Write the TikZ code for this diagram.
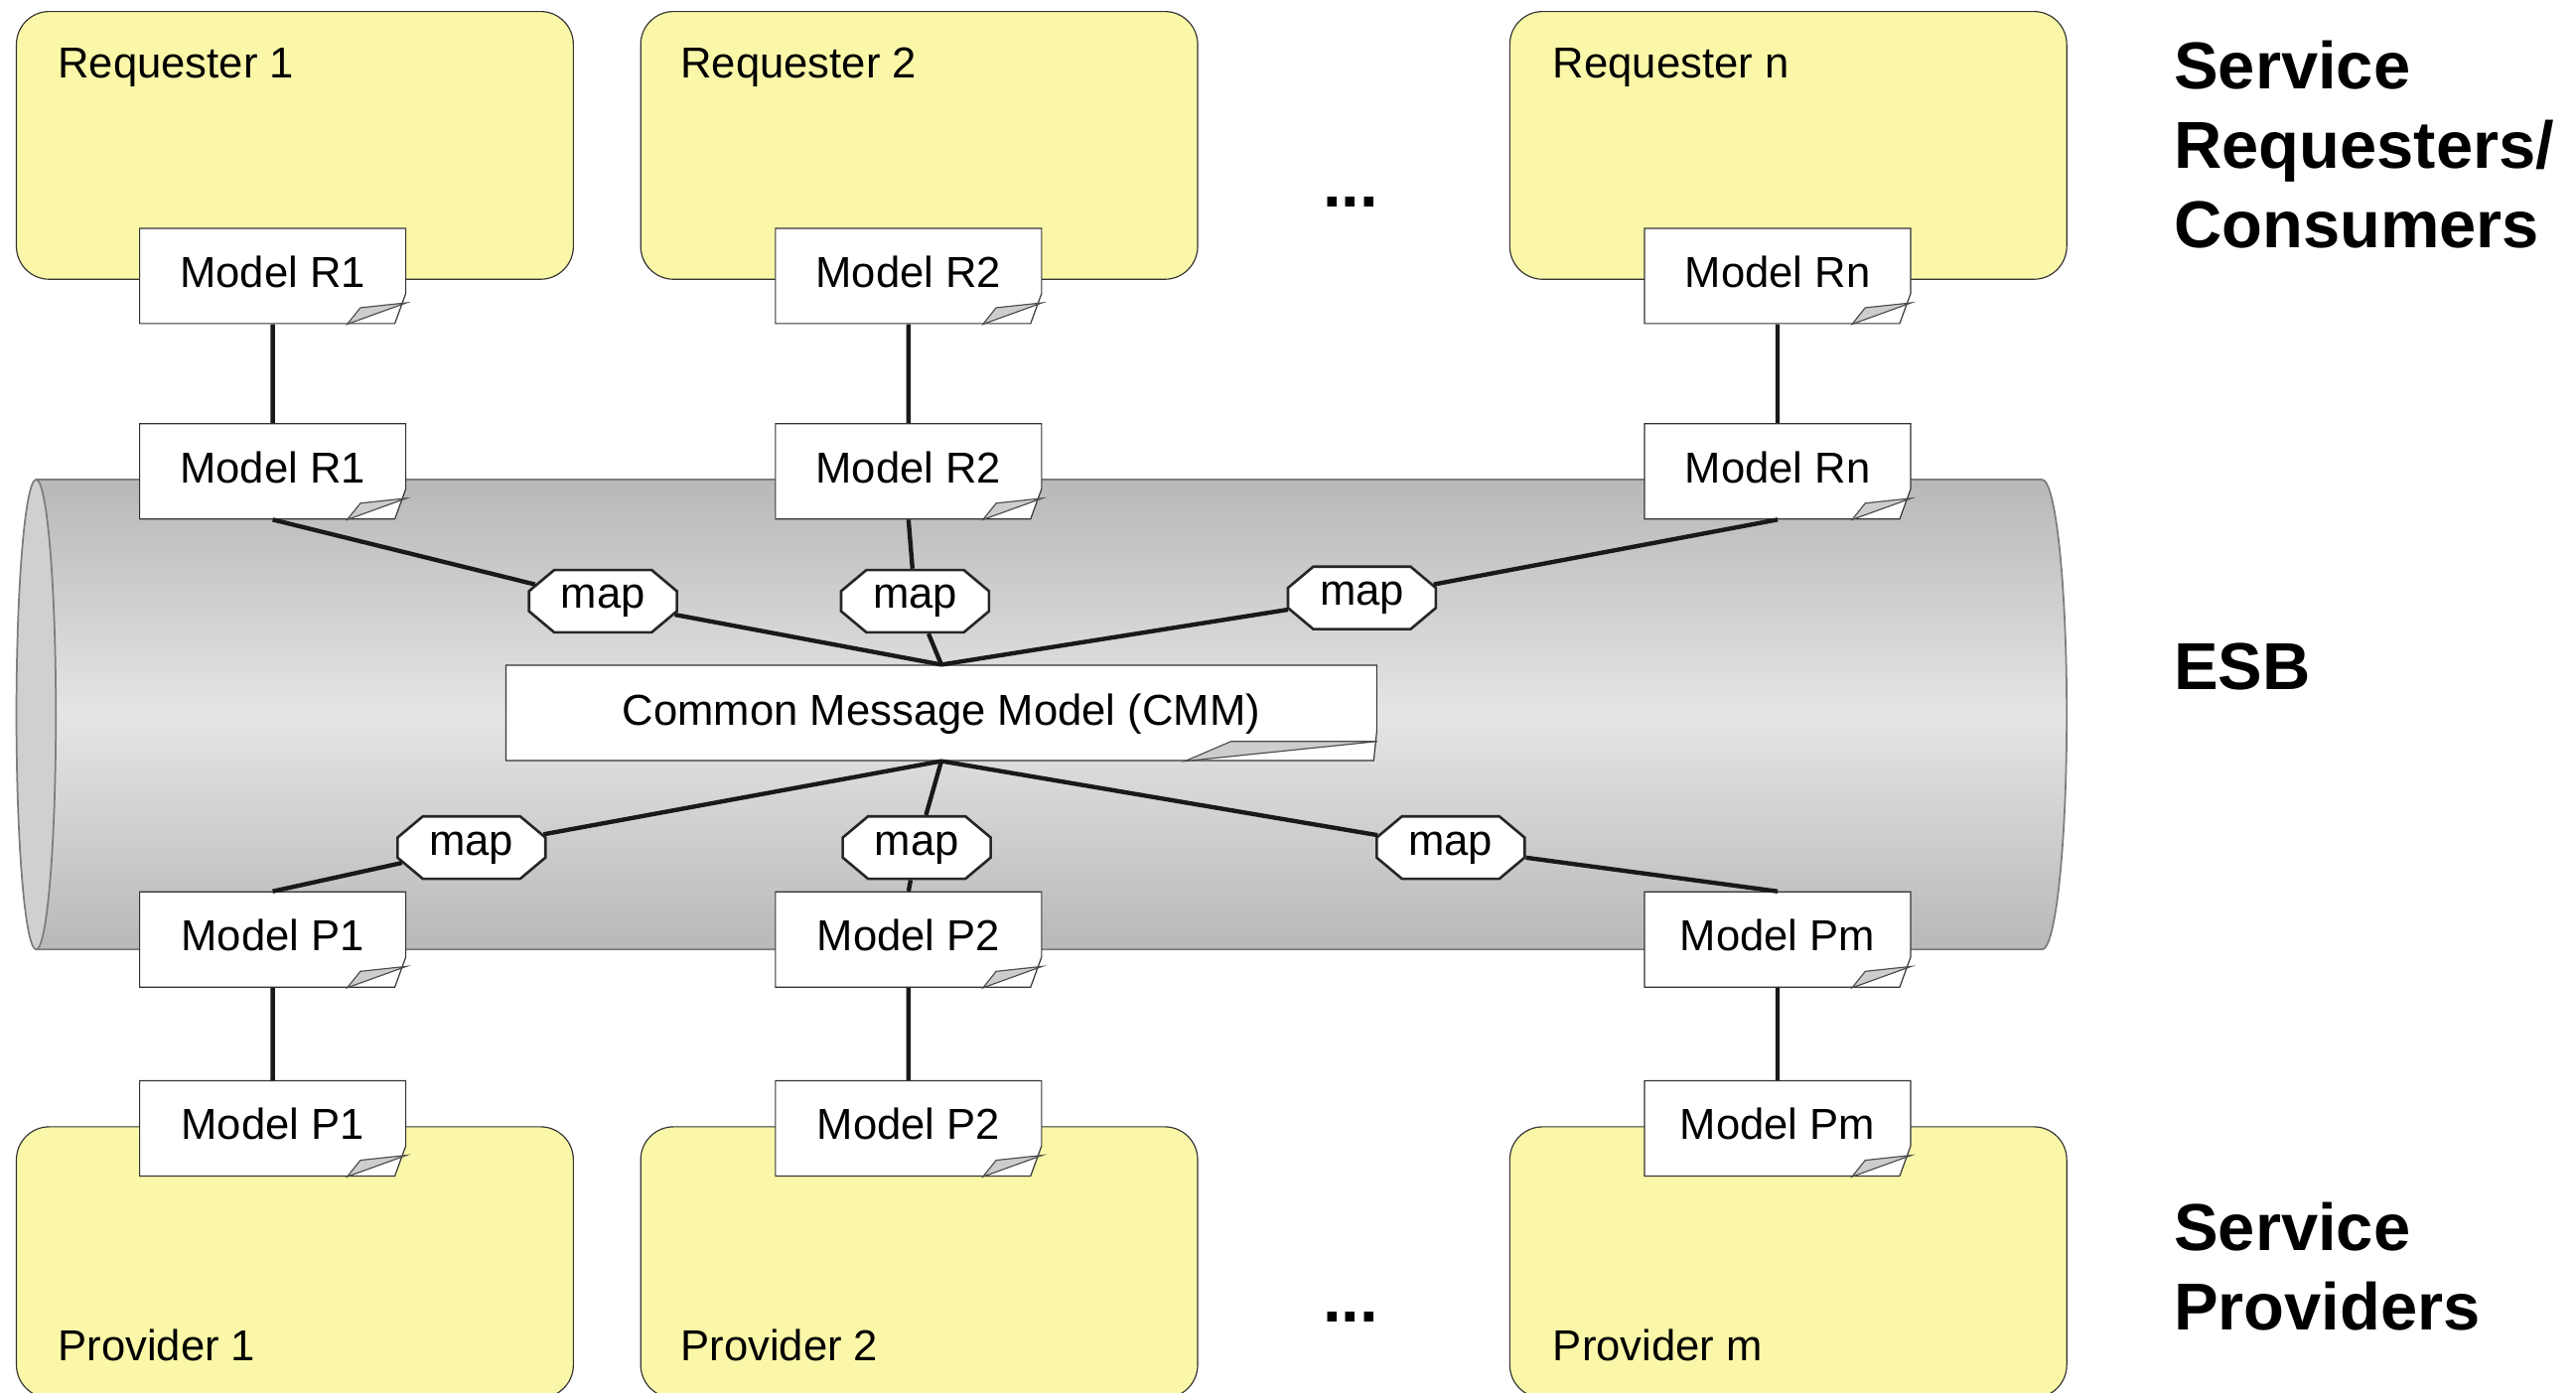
\documentclass[tikz,border=0pt]{standalone}
\usepackage{fontspec}
\setmainfont{Liberation Sans}
\usetikzlibrary{calc,shapes.misc}

\definecolor{partyyellow}{RGB}{250,248,168}
\definecolor{busdark}{RGB}{184,184,184}
\definecolor{buslight}{RGB}{229,229,229}
\definecolor{busend}{RGB}{208,208,208}
\definecolor{busline}{RGB}{125,125,125}
\definecolor{curlgrey}{RGB}{205,205,205}

\begin{document}
\begin{tikzpicture}[
    x=0.2mm,y=-0.2mm,
    every node/.style={font=\fontsize{15}{18}\selectfont},
    party/.style={draw=black!80,fill=partyyellow,rounded corners=4mm,
                  minimum width=67.8mm,minimum height=32.6mm,inner sep=0pt},
    plabel/.style={anchor=west,inner sep=0pt},
    model/.style={chamfered rectangle,chamfered rectangle corners=south east,
                  chamfered rectangle angle=20,chamfered rectangle xsep=7.2mm,
                  draw=black!80,fill=white,inner sep=0pt,text depth=0.3em,
                  minimum width=32.4mm,minimum height=11.6mm},
    mapbox/.style={chamfered rectangle,chamfered rectangle angle=50,
                   chamfered rectangle xsep=1.6mm,draw=black!85,fill=white,
                   line width=0.9pt,inner sep=0pt,text height=0.72em,text depth=0.21em,
                   minimum width=18mm,minimum height=7.6mm},
    cmmbox/.style={model,chamfered rectangle angle=6,
                   chamfered rectangle xsep=23.4mm,text depth=0.2em,
                   minimum width=106mm},
    curl/.style={fill=curlgrey,draw=black!70,line width=0.4pt},
    link/.style={line width=1.5pt,black!90},
    head/.style={anchor=west,align=left,inner sep=0pt,
                 font=\fontsize{23}{27.6}\selectfont\bfseries},
  ]
  \path[use as bounding box] (0,0) rectangle (1568,848);
  \clip (0,0) rectangle (1568,848);

  % the bus
  \shade[top color=busdark,bottom color=busdark,middle color=buslight,
         draw=busline,line width=0.6pt]
    (22,292) -- (1243,292) arc[start angle=90,end angle=-90,x radius=3mm,y radius=28.6mm]
    -- (22,578) -- cycle;
  \filldraw[fill=busend,draw=busline,line width=0.6pt]
    (22,435) ellipse[x radius=2.4mm,y radius=28.6mm];

  % requesters and providers
  \node[party] (req1) at (179.5,88.5) {};
  \node[party] (req2) at (559.5,88.5) {};
  \node[party] (reqn) at (1088.5,88.5) {};
  \node[party,minimum height=33mm] (prov1) at (179.5,768.5) {};
  \node[party,minimum height=33mm] (prov2) at (559.5,768.5) {};
  \node[party,minimum height=33mm] (provm) at (1088.5,768.5) {};
  \node[plabel] (req1t) at (35,41) {Requester 1};
  \node[plabel] (req2t) at (414,41) {Requester 2};
  \node[plabel] (reqnt) at (945,41) {Requester n};
  \node[plabel] (prov1t) at (35,819) {Provider 1};
  \node[plabel] (prov2t) at (414,819) {Provider 2};
  \node[plabel] (provmt) at (945,819) {Provider m};

  % models
  \node[model] (mr1u) at (166,168) {Model R1};
  \node[model] (mr1l) at (166,287) {Model R1};
  \node[model] (mr2u) at (553,168) {Model R2};
  \node[model] (mr2l) at (553,287) {Model R2};
  \node[model] (mrnu) at (1082,168) {Model Rn};
  \node[model] (mrnl) at (1082,287) {Model Rn};
  \node[model] (mp1u) at (166,572) {Model P1};
  \node[model] (mp1l) at (166,687) {Model P1};
  \node[model] (mp2u) at (553,572) {Model P2};
  \node[model] (mp2l) at (553,687) {Model P2};
  \node[model] (mpmu) at (1082,572) {Model Pm};
  \node[model] (mpml) at (1082,687) {Model Pm};

  \node[cmmbox] (cmm) at (573,434) {Common Message Model (CMM)};

  \node[mapbox] (map1) at (367,366) {map};
  \node[mapbox] (map2) at (557,366) {map};
  \node[mapbox] (map3) at (829,364) {map};
  \node[mapbox] (map4) at (287,516) {map};
  \node[mapbox] (map5) at (558,516) {map};
  \node[mapbox] (map6) at (883,516) {map};

  % links
  \draw[link] (mr1u) -- (mr1l);
  \draw[link] (mr2u) -- (mr2l);
  \draw[link] (mrnu) -- (mrnl);
  \draw[link] (mp1u) -- (mp1l);
  \draw[link] (mp2u) -- (mp2l);
  \draw[link] (mpmu) -- (mpml);
  \draw[link] (mr1l.south) -- (map1) -- (cmm.north);
  \draw[link] (mr2l.south) -- (map2) -- (cmm.north);
  \draw[link] (mrnl.south) -- (map3) -- (cmm.north);
  \draw[link] (cmm.south) -- (map4) -- (mp1u.north);
  \draw[link] (cmm.south) -- (map5) -- (mp2u.north);
  \draw[link] (cmm.south) -- (map6) -- (mpmu.north);

  % page curls
  \foreach \n in {mr1u,mr1l,mr2u,mr2l,mrnu,mrnl,mp1u,mp1l,mp2u,mp2l,mpmu,mpml}
    \filldraw[curl] ($(\n.east|-\n.south)+(-36,0)$) -- ($(\n.east|-\n.south)+(-28,-10)$)
      -- ($(\n.east|-\n.south)+(0,-13)$) -- cycle;
  \filldraw[curl] ($(cmm.east|-cmm.south)+(-117,0)$) -- ($(cmm.east|-cmm.south)+(-89,-12)$)
    -- ($(cmm.east|-cmm.south)+(0,-12)$) -- cycle;

  % side labels
  \node[head] (hreq) at (1323,88) {Service\\Requesters/\\Consumers};
  \node[head] (hesb) at (1323,406) {ESB};
  \node[head] (hprov) at (1323,771) {Service\\Providers};
  \node[head,anchor=base] (dotsr) at (822,126) {...};
  \node[head,anchor=base] (dotsp) at (822,805) {...};
\end{tikzpicture}
\end{document}
